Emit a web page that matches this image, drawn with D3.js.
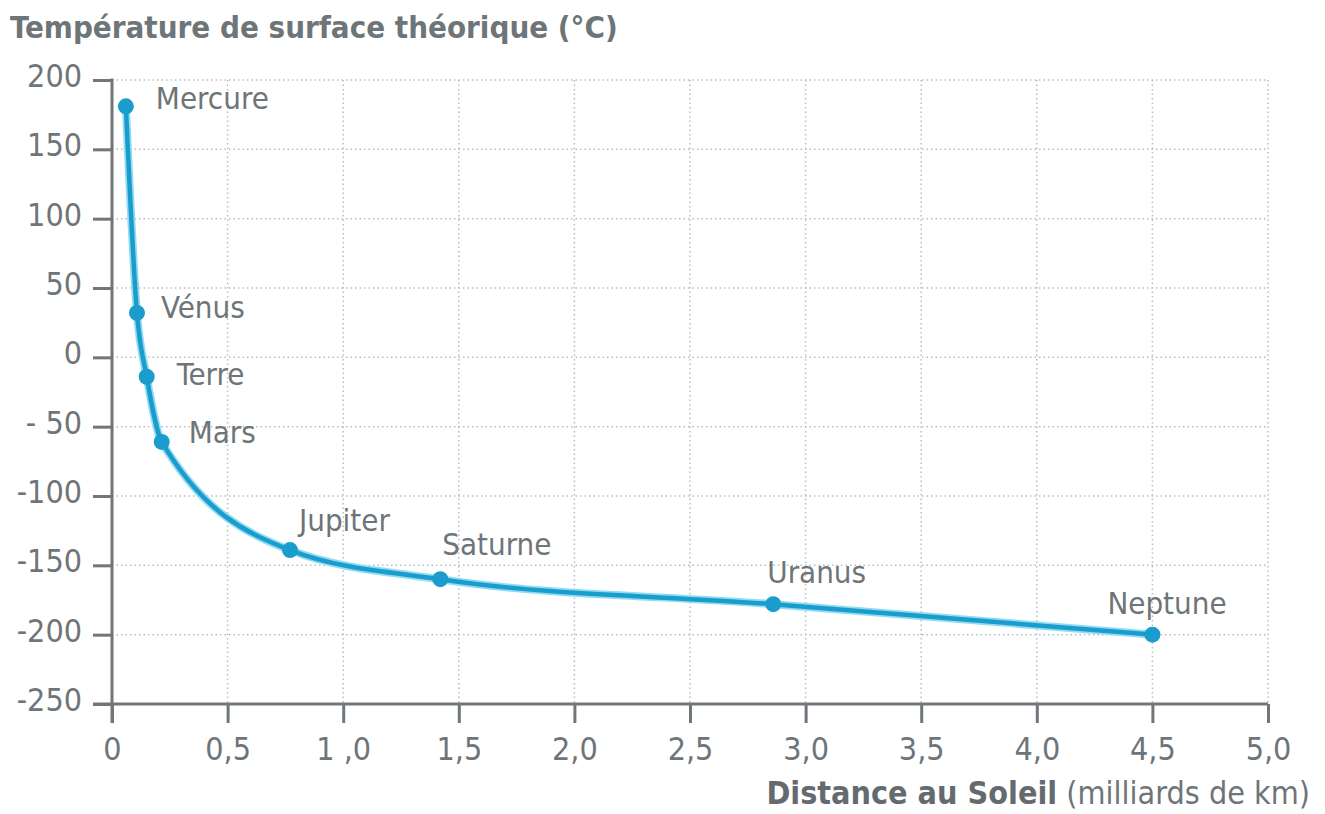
<!DOCTYPE html>
<meta charset="utf-8">
<style>
body { margin: 0; background: #fff; }
svg text { font-family: "Liberation Sans Narrow", "DejaVu Sans Condensed", sans-serif; fill: #6e7579; }
.grid line { stroke: #b9bdbf; stroke-width: 1.5; stroke-dasharray: 1.5,3; }
.axis path, .axis line { stroke: #70767a; stroke-width: 3; }
.planet { font-size: 31px; }
</style>
<body>
<script src="https://cdn.jsdelivr.net/npm/d3@7"></script>
<script>

// ---------- data ----------
var planets   = ['Mercure', 'Vénus', 'Terre', 'Mars', 'Jupiter', 'Saturne', 'Uranus', 'Neptune']
var distances = [0.06, 0.108, 0.15, 0.215, 0.77, 1.42, 2.86, 4.5]   // milliards de km
var temps     = [181, 32, -14, -61, -139, -160, -178, -200]          // °C

var xTicks = [0, 0.5, 1, 1.5, 2, 2.5, 3, 3.5, 4, 4.5, 5]
var xTickLabels = ['0', '0,5', '1 ,0', '1,5', '2,0', '2,5', '3,0', '3,5', '4,0', '4,5', '5,0']
var yTicks = [200, 150, 100, 50, 0, -50, -100, -150, -200, -250]
var yTickLabels = ['200', '150', '100', '50', '0', '- 50', '-100', '-150', '-200', '-250']

// label placement (px offsets from the point)
var labelDx = [30, 24, 30, 27, 9, 2, -6, -45]
var labelDy = [3, 5, 8, 1, -19, -24, -21, -21]

// ---------- layout ----------
var width = 1325, height = 814
var mLeft = 112, mRight = 1268, mTop = 80, mBottom = 704

var svg = d3.select('body').append('svg')
    .attr('width', width)
    .attr('height', height)

var x = d3.scaleLinear().domain([0, 5]).range([mLeft, mRight])
var y = d3.scaleLinear().domain([-250, 200]).range([mBottom, mTop])

// grid
var grid = svg.append('g').attr('class', 'grid')
grid.selectAll('.v')
    .data(xTicks.slice(1))
    .enter().append('line')
    .attr('x1', x).attr('x2', x)
    .attr('y1', mTop).attr('y2', mBottom)
grid.selectAll('.h')
    .data(yTicks.slice(0, -1))
    .enter().append('line')
    .attr('x1', mLeft).attr('x2', mRight)
    .attr('y1', y).attr('y2', y)

// axes
var xAxis = d3.axisBottom(x)
    .tickValues(xTicks)
    .tickSize(19)
    .tickPadding(14)
    .tickFormat(function (d, i) { return xTickLabels[i] })
var yAxis = d3.axisLeft(y)
    .tickValues(yTicks)
    .tickSize(19)
    .tickPadding(11)
    .tickFormat(function (d, i) { return yTickLabels[i] })

svg.append('g')
    .attr('class', 'axis')
    .attr('transform', 'translate(0,' + mBottom + ')')
    .call(xAxis)
    .call(function (g) { g.select('.domain').attr('d', 'M' + (mLeft - 19) + ',0H' + mRight) })
    .selectAll('text').attr('fill', '#6e7579').attr('font-size', 32)

svg.append('g')
    .attr('class', 'axis')
    .attr('transform', 'translate(' + mLeft + ',0)')
    .call(yAxis)
    .call(function (g) { g.select('.domain').attr('d', 'M0,' + (mTop - 1.5) + 'V' + (mBottom + 19)) })
    .selectAll('text').attr('fill', '#6e7579').attr('font-size', 32).attr('dy', '0.2em')

// curve
var pts = distances.map(function (d, i) { return [x(d), y(temps[i])] })
var line = d3.line().curve(d3.curveMonotoneX)

svg.append('path')
    .attr('d', line(pts))
    .attr('fill', 'none')
    .attr('stroke', '#8fdcf3')
    .attr('stroke-width', 8)
    .attr('stroke-linecap', 'round')
svg.append('path')
    .attr('d', line(pts))
    .attr('fill', 'none')
    .attr('stroke', '#1a9ccc')
    .attr('stroke-width', 4.5)
    .attr('stroke-linecap', 'round')

svg.selectAll('circle')
    .data(pts)
    .enter().append('circle')
    .attr('cx', function (d) { return d[0] })
    .attr('cy', function (d) { return d[1] })
    .attr('r', 8)
    .attr('fill', '#1a9ccc')

svg.selectAll('.planet')
    .data(planets)
    .enter().append('text')
    .attr('class', 'planet')
    .attr('x', function (d, i) { return pts[i][0] + labelDx[i] })
    .attr('y', function (d, i) { return pts[i][1] + labelDy[i] })
    .text(function (d) { return d })

// titles
svg.append('text')
    .attr('x', 10)
    .attr('y', 38)
    .attr('font-size', 31)
    .attr('fill', '#646b6f')
    .style('font-weight', 'bold')
    .text('Température de surface théorique (°C)')

var xt = svg.append('text')
    .attr('x', 1310)
    .attr('y', 804)
    .attr('text-anchor', 'end')
    .attr('font-size', 32)
xt.append('tspan').style('font-weight', 'bold').attr('fill', '#646b6f').text('Distance au Soleil')
xt.append('tspan').text(' (milliards de km)')

</script>
</body>
